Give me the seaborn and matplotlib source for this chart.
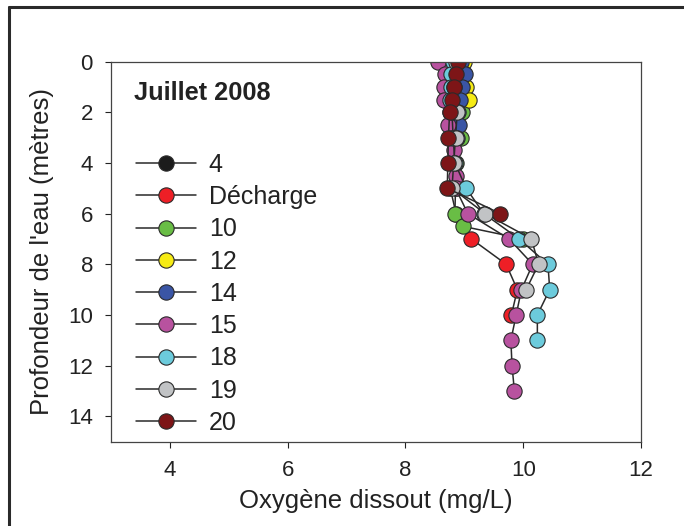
import matplotlib
matplotlib.use("Agg")
import matplotlib.pyplot as plt
from matplotlib.lines import Line2D
import pandas as pd
import seaborn as sns

# stations, in legend order
stations = ["4", "Décharge", "10", "12", "14", "15", "18", "19", "20"]
colors = ["#1c1c1c", "#ee1f26", "#69bd45", "#f6eb14", "#3a55a5", "#b8529f", "#6ccbdc", "#c1c3c5", "#7d1517"]

# depth (m) and dissolved oxygen (mg/L) per station
depth_4 = [0, 1, 2, 3, 4]
oxy_4 = [8.88, 8.86, 8.83, 8.80, 8.79]
depth_dech = [0, 1, 2, 3, 4, 5, 6, 7, 8, 9, 10]
oxy_dech = [8.87, 8.84, 8.80, 8.78, 8.77, 8.76, 8.86, 9.12, 9.71, 9.90, 9.80]
depth_10 = [0, 1, 2, 3, 4, 5, 6, 6.5, 7]
oxy_10 = [8.92, 8.90, 8.96, 8.95, 8.86, 8.85, 8.84, 8.97, 10.0]
depth_12 = [0, 0.5, 1, 1.5]
oxy_12 = [8.99, 8.96, 9.03, 9.08]
depth_14 = [0, 0.5, 1, 1.5, 2, 2.5, 3]
oxy_14 = [8.95, 9.01, 8.96, 8.93, 8.90, 8.91, 8.87]
depth_15 = [0, 0.5, 1, 1.5, 2, 2.5, 3, 3.5, 4, 4.5, 5, 6, 7, 8, 9, 10, 11, 12, 13]
oxy_15 = [8.55, 8.67, 8.65, 8.65, 8.75, 8.72, 8.77, 8.82, 8.82, 8.85, 8.85, 9.06, 9.76, 10.16, 9.97, 9.88, 9.79, 9.81, 9.85]
depth_18 = [0, 0.5, 1, 1.5, 2, 3, 4, 5, 6, 7, 8, 9, 10, 11]
oxy_18 = [8.80, 8.78, 8.77, 8.76, 8.79, 8.81, 8.84, 9.03, 9.33, 9.93, 10.42, 10.45, 10.24, 10.24]
depth_19 = [0, 1, 2, 3, 4, 5, 6, 7, 8, 9]
oxy_19 = [8.85, 8.83, 8.88, 8.85, 8.82, 8.79, 9.35, 10.14, 10.26, 10.05]
depth_20 = [0, 0.5, 1, 1.5, 2, 3, 4, 5, 6]
oxy_20 = [8.89, 8.86, 8.83, 8.79, 8.75, 8.73, 8.72, 8.71, 9.61]

depths = [depth_4, depth_dech, depth_10, depth_12, depth_14, depth_15, depth_18, depth_19, depth_20]
oxys = [oxy_4, oxy_dech, oxy_10, oxy_12, oxy_14, oxy_15, oxy_18, oxy_19, oxy_20]

xticks = [4, 6, 8, 10, 12]
yticks = [0, 2, 4, 6, 8, 10, 12, 14]

sns.set_style("ticks")
plt.rcParams['font.family'] = ['Liberation Sans', 'DejaVu Sans']

fig = plt.figure(figsize=(6.84, 5.26), dpi=100)
ax = fig.add_axes([111 / 684, 1 - 441.7 / 526, 530 / 684, 380.2 / 526])

for name, col, d, o in zip(stations, colors, depths, oxys):
    df = pd.DataFrame({'depth': d, 'oxy': o})
    sns.lineplot(data=df, x='oxy', y='depth', sort=False, estimator=None, ax=ax,
                 color='#2a2a2a', lw=1.1, marker='o', ms=11,
                 markerfacecolor=col, markeredgecolor='#2a2a2a', markeredgewidth=0.8,
                 label=name, legend=False)

ax.set_xlim(3, 12)
ax.set_ylim(15, 0)
ax.set_xticks(xticks)
ax.set_yticks(yticks)
ax.tick_params(labelsize=16, length=4, width=0.8, pad=9, colors='#222222')
for s in ax.spines.values():
    s.set_color('#444444')
    s.set_linewidth(0.9)
ax.set_xlabel("Oxygène dissout (mg/L)", fontsize=18.5, labelpad=6, color='#222222')
ax.set_ylabel("Profondeur de l'eau (mètres)", fontsize=18.5, labelpad=10, color='#222222')

ax.text(134 / 684, 1 - 93 / 526, "Juillet 2008", transform=fig.transFigure,
        fontsize=18.3, fontweight='bold', va='center', ha='left', color='#222222')

handles, labels = ax.get_legend_handles_labels()
ax.legend(handles, labels, loc='upper left', bbox_to_anchor=(0.029, 0.786),
          frameon=False, fontsize=18, handlelength=2.4, handletextpad=0.5,
          labelspacing=0.33, borderaxespad=0, labelcolor='#222222')

# outer frame
fig.add_artist(Line2D([9 / 684, 9 / 684], [0, 1 - 6.5 / 526], transform=fig.transFigure,
                      color='#2a2a2a', lw=2.2))
fig.add_artist(Line2D([9 / 684, 1], [1 - 6.5 / 526, 1 - 6.5 / 526], transform=fig.transFigure,
                      color='#2a2a2a', lw=2.2))

fig.savefig("out.png", dpi=100)
